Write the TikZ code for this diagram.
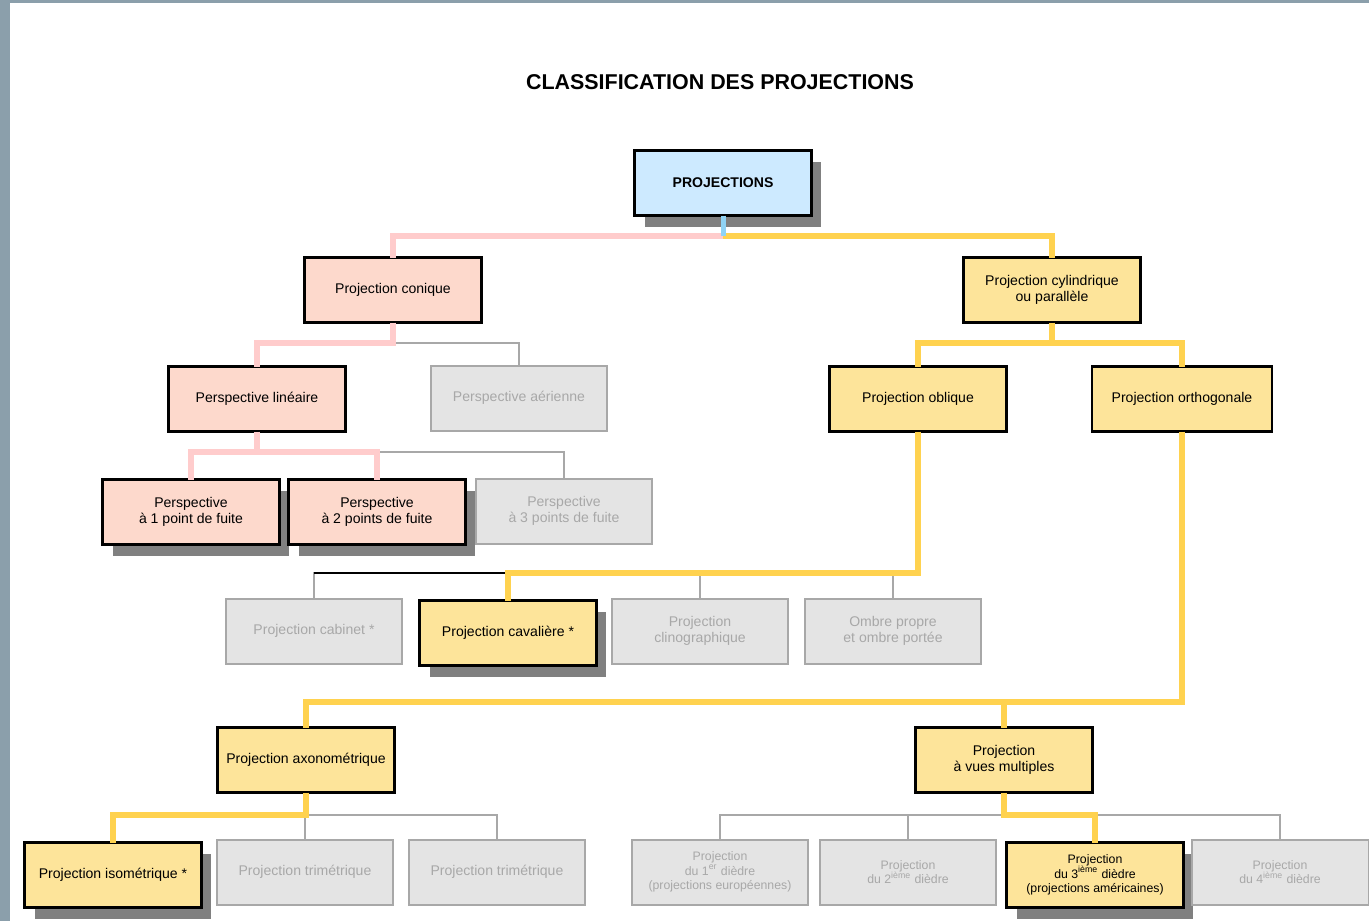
\documentclass[tikz,border=0pt]{standalone}
\usepackage{fontspec}
\setmainfont{Liberation Sans}
\usetikzlibrary{shadows}
\definecolor{rootBlue}{HTML}{CDEAFF}
\definecolor{conePink}{HTML}{FDD9CC}
\definecolor{linePink}{HTML}{FFCCCC}
\definecolor{cylYellow}{HTML}{FDE49A}
\definecolor{lineYellow}{HTML}{FFD24F}
\definecolor{stubBlue}{HTML}{8FD3F5}
\definecolor{offGrey}{HTML}{E4E4E4}
\definecolor{offLine}{HTML}{A8A8A8}
\definecolor{shadowGrey}{HTML}{808080}
\definecolor{frameGrey}{HTML}{8B9FAB}

\begin{document}
\begin{tikzpicture}[
    x=0.02cm, y=-0.02cm,
    font=\fontsize{8}{9}\selectfont,
    box/.style={draw=black, line width=0.05cm, rectangle, minimum width=3.54cm, minimum height=1.3cm, align=center, inner sep=1pt, outer sep=0pt},
    rootbox/.style={box, fill=rootBlue, font=\fontsize{8}{9}\selectfont\bfseries},
    pinkbox/.style={box, fill=conePink},
    yellowbox/.style={box, fill=cylYellow},
    greybox/.style={box, draw=offLine, line width=0.04cm, fill=offGrey, text=offLine},
    smalltext/.style={font=\fontsize{7}{8.2}\selectfont},
    shadowed/.style={general shadow={fill=shadowGrey, shadow xshift=0.2cm, shadow yshift=-0.22cm}},
    pinkline/.style={draw=linePink, line width=0.13cm},
    yellowline/.style={draw=lineYellow, line width=0.13cm},
    blueline/.style={draw=stubBlue, line width=0.1cm},
    greyline/.style={draw=offLine, line width=0.04cm}
]
    \useasboundingbox (0,0) rectangle (1369,921);
    \fill[frameGrey] (0,0) rectangle (10,921);
    \fill[frameGrey] (0,0) rectangle (1369,3);

    \node[font=\fontsize{12.2}{14}\selectfont\bfseries] (title) at (720,82) {CLASSIFICATION DES PROJECTIONS};

    % niveau 1 et 2
    \node[rootbox, shadowed] (proj) at (723,183) {PROJECTIONS};
    \node[pinkbox] (conique) at (393,290) {Projection conique};
    \node[yellowbox] (cyl) at (1052,290) {Projection cylindrique\\ou parallèle};

    % niveau 3
    \node[pinkbox] (lin) at (257,399) {Perspective linéaire};
    \node[greybox] (aer) at (519,398) {Perspective aérienne};
    \node[yellowbox] (obl) at (918,399) {Projection oblique};
    \node[yellowbox, minimum width=3.6cm] (ortho) at (1182,399) {Projection orthogonale};

    % perspectives
    \node[pinkbox, shadowed] (p1) at (191,512) {Perspective\\à 1 point de fuite};
    \node[pinkbox, shadowed] (p2) at (377,512) {Perspective\\à 2 points de fuite};
    \node[greybox] (p3) at (564,511) {Perspective\\à 3 points de fuite};

    % projections obliques
    \node[greybox] (cab) at (314,631) {Projection cabinet *};
    \node[yellowbox, shadowed] (cav) at (508,633) {Projection cavalière *};
    \node[greybox] (clino) at (700,631) {Projection\\clinographique};
    \node[greybox] (ombre) at (893,631) {Ombre propre\\et ombre portée};

    % projections orthogonales
    \node[yellowbox] (axo) at (306,760) {Projection axonométrique};
    \node[yellowbox] (vues) at (1004,760) {Projection\\à vues multiples};

    \node[yellowbox, shadowed] (iso) at (113,875) {Projection isométrique *};
    \node[greybox] (tri1) at (305,872) {Projection trimétrique};
    \node[greybox] (tri2) at (497,872) {Projection trimétrique};

    \node[greybox, smalltext] (d1) at (720,872) {Projection\\du 1\textsuperscript{er} dièdre\\(projections européennes)};
    \node[greybox, smalltext] (d2) at (908,872) {Projection\\du 2\textsuperscript{ième} dièdre};
    \node[yellowbox, shadowed, smalltext] (d3) at (1095,875) {Projection\\du 3\textsuperscript{ième} dièdre\\(projections américaines)};
    \node[greybox, smalltext] (d4) at (1280,872) {Projection\\du 4\textsuperscript{ième} dièdre};

    % liaisons
    \coordinate (j0) at (723,236);
    \draw[pinkline] (j0) -| (conique.north);
    \draw[yellowline] (j0) -| (cyl.north);
    \draw[blueline] (proj.south) -- (j0);

    \coordinate (j1) at (393,343);
    \draw[greyline] (j1) -| (aer.north);
    \draw[pinkline] (conique.south) -- (j1) -| (lin.north);

    \coordinate (j2) at (257,452);
    \draw[greyline] (j2) -| (p3.north);
    \draw[pinkline] (lin.south) -- (j2) -| (p1.north);
    \draw[pinkline] (j2) -| (p2.north);

    \coordinate (j3) at (1052,343);
    \draw[yellowline] (cyl.south) -- (j3) -| (obl.north);
    \draw[yellowline] (j3) -| (ortho.north);

    \coordinate (j4) at (918,573);
    \draw[greyline] (j4) -| (cab.north);
    \draw[greyline] (j4) -| (clino.north);
    \draw[greyline] (j4) -| (ombre.north);
    \draw[line width=0.04cm] (cav.north |- j4) -- (cab.north |- j4);
    \draw[yellowline] (obl.south) -- (j4) -| (cav.north);

    \coordinate (j5) at (1182,702);
    \draw[yellowline] (ortho.south) -- (j5) -| (axo.north);
    \draw[yellowline] (j5) -| (vues.north);

    \coordinate (j6) at (306,815);
    \draw[greyline] (j6) -| (tri1.north);
    \draw[greyline] (j6) -| (tri2.north);
    \draw[yellowline] (axo.south) -- (j6) -| (iso.north);

    \coordinate (j7) at (1004,815);
    \draw[greyline] (j7) -| (d1.north);
    \draw[greyline] (j7) -| (d2.north);
    \draw[greyline] (j7) -| (d4.north);
    \draw[yellowline] (vues.south) -- (j7) -| (d3.north);
\end{tikzpicture}
\end{document}
